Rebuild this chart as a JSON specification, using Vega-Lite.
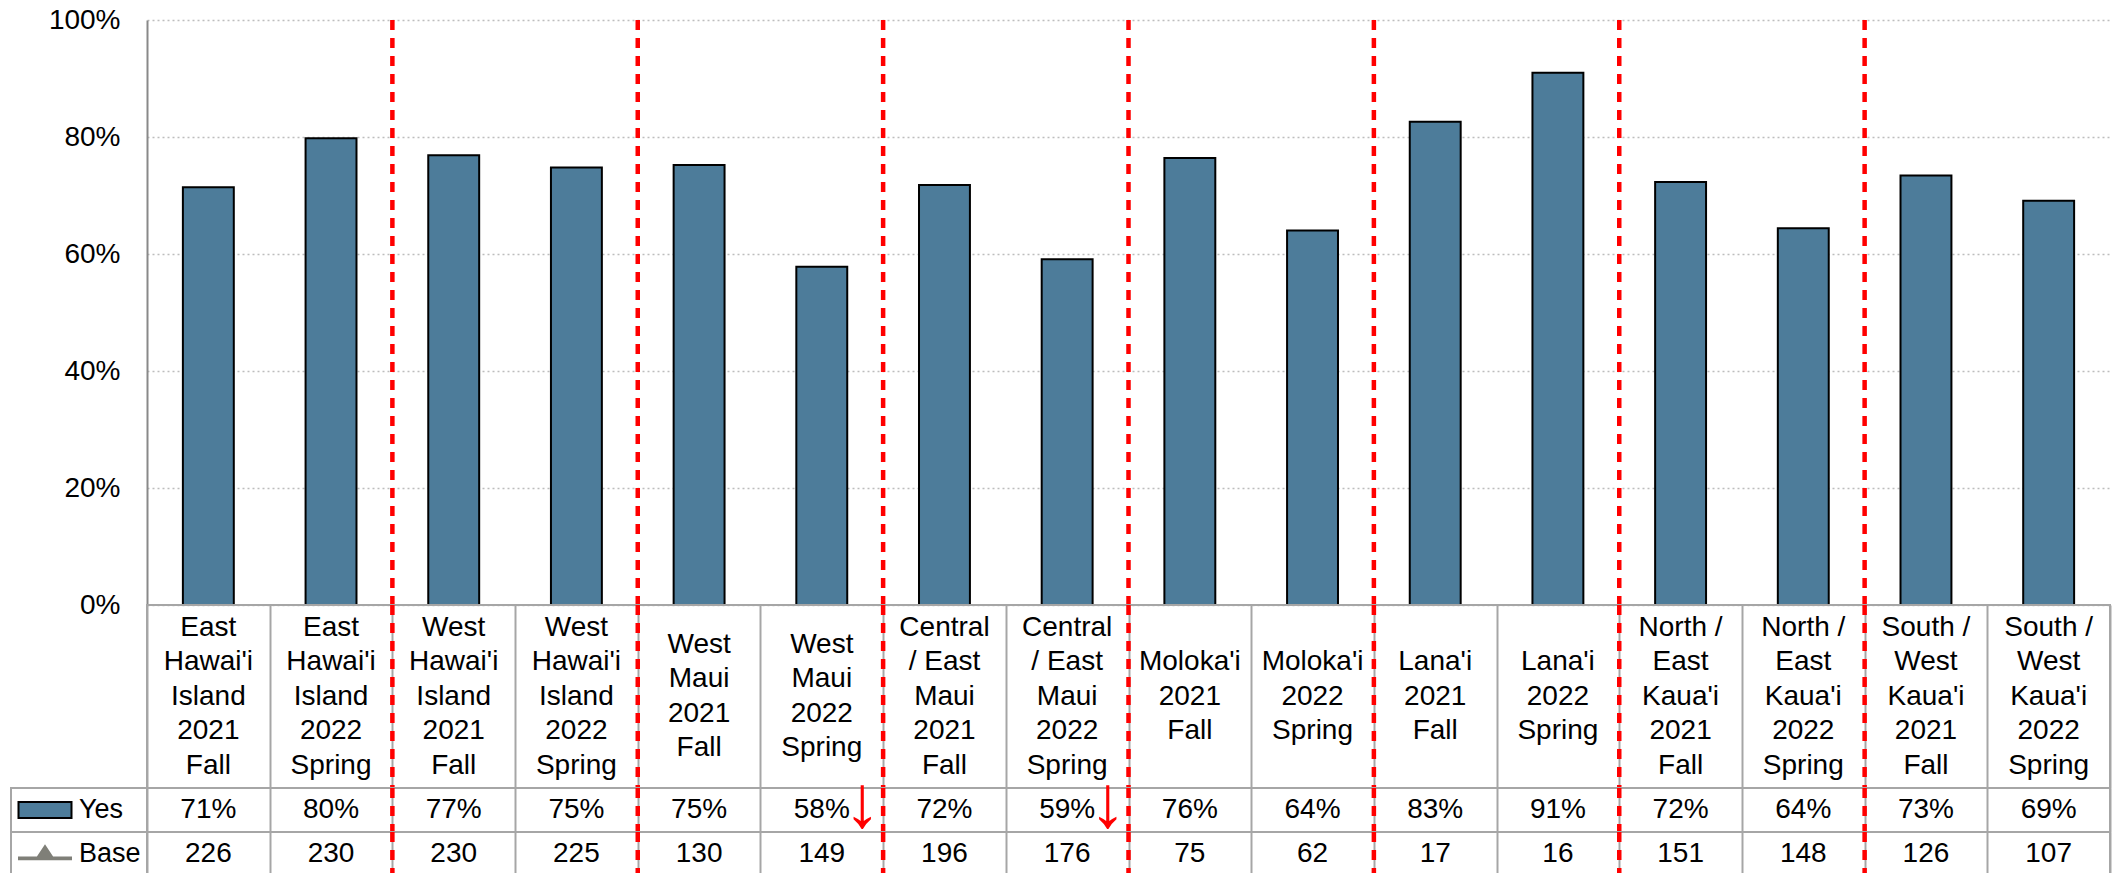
{
  "$schema": "https://vega.github.io/schema/vega-lite/v6.json",
  "autosize": {"type": "pad"},
  "padding": {"left": 10, "top": 6, "right": 1, "bottom": 0},
  "config": {
    "font": "Liberation Sans",
    "view": {"stroke": "#A6A6A6", "strokeWidth": 2}
  },
  "bounds": "flush",
  "spacing": 0,
  "columns": 2,
  "data": {
    "values": [
      {"region": "East Hawai'i Island", "wave": "2021 Fall", "label": "East\nHawai'i\nIsland\n2021\nFall", "yes": 0.714, "base": 226, "change": ""},
      {"region": "East Hawai'i Island", "wave": "2022 Spring", "label": "East\nHawai'i\nIsland\n2022\nSpring", "yes": 0.798, "base": 230, "change": ""},
      {"region": "West Hawai'i Island", "wave": "2021 Fall", "label": "West\nHawai'i\nIsland\n2021\nFall", "yes": 0.769, "base": 230, "change": ""},
      {"region": "West Hawai'i Island", "wave": "2022 Spring", "label": "West\nHawai'i\nIsland\n2022\nSpring", "yes": 0.748, "base": 225, "change": ""},
      {"region": "West Maui", "wave": "2021 Fall", "label": "West\nMaui\n2021\nFall", "yes": 0.752, "base": 130, "change": ""},
      {"region": "West Maui", "wave": "2022 Spring", "label": "West\nMaui\n2022\nSpring", "yes": 0.578, "base": 149, "change": "down"},
      {"region": "Central / East Maui", "wave": "2021 Fall", "label": "Central\n/ East\nMaui\n2021\nFall", "yes": 0.718, "base": 196, "change": ""},
      {"region": "Central / East Maui", "wave": "2022 Spring", "label": "Central\n/ East\nMaui\n2022\nSpring", "yes": 0.591, "base": 176, "change": "down"},
      {"region": "Moloka'i", "wave": "2021 Fall", "label": "Moloka'i\n2021\nFall", "yes": 0.764, "base": 75, "change": ""},
      {"region": "Moloka'i", "wave": "2022 Spring", "label": "Moloka'i\n2022\nSpring", "yes": 0.640, "base": 62, "change": ""},
      {"region": "Lana'i", "wave": "2021 Fall", "label": "Lana'i\n2021\nFall", "yes": 0.826, "base": 17, "change": ""},
      {"region": "Lana'i", "wave": "2022 Spring", "label": "Lana'i\n2022\nSpring", "yes": 0.910, "base": 16, "change": ""},
      {"region": "North / East Kaua'i", "wave": "2021 Fall", "label": "North /\nEast\nKaua'i\n2021\nFall", "yes": 0.723, "base": 151, "change": ""},
      {"region": "North / East Kaua'i", "wave": "2022 Spring", "label": "North /\nEast\nKaua'i\n2022\nSpring", "yes": 0.644, "base": 148, "change": ""},
      {"region": "South / West Kaua'i", "wave": "2021 Fall", "label": "South /\nWest\nKaua'i\n2021\nFall", "yes": 0.734, "base": 126, "change": ""},
      {"region": "South / West Kaua'i", "wave": "2022 Spring", "label": "South /\nWest\nKaua'i\n2022\nSpring", "yes": 0.691, "base": 107, "change": ""}
    ]
  },
  "concat": [
    {
      "width": 136, "height": 585, "view": {"stroke": null},
      "data": {"values": [{"series": ""}]},
      "mark": {"type": "text"},
      "encoding": {"text": {"value": ""}}
    },
    {
      "width": 1963, "height": 585, "view": {"stroke": null},
      "layer": [
        {
          "mark": {"type": "bar", "fill": "#4D7C9A", "stroke": "#000000", "strokeWidth": 2, "width": {"band": 0.415}},
          "encoding": {
            "x": {"field": "label", "type": "nominal", "sort": null, "axis": null, "scale": {"type": "band", "paddingInner": 0, "paddingOuter": 0}},
            "y": {"field": "yes", "type": "quantitative", "scale": {"domain": [0, 1], "nice": false},
              "axis": {"values": [0, 0.2, 0.4, 0.6, 0.8, 1], "format": ".0%", "title": null, "ticks": false, "labelFontSize": 28, "labelColor": "#000000", "labelPadding": 27, "domainColor": "#898989", "domainWidth": 2, "grid": true, "gridColor": "#BDBDBD", "gridDash": [2, 3], "gridWidth": 1.5}}
          }
        },
        {
          "mark": {"type": "rule", "color": "#FF0000", "strokeWidth": 4.5, "strokeDash": [10, 8]},
          "encoding": {
            "x": {"field": "label", "type": "nominal", "sort": null, "bandPosition": 0, "scale": {"type": "band", "paddingInner": 0, "paddingOuter": 0}},
            "strokeOpacity": {"condition": {"test": "datum.wave === '2021 Fall' && datum.region !== \"East Hawai'i Island\"", "value": 1}, "value": 0}
          }
        }
      ]
    },
    {
      "width": 136, "height": 183, "view": {"stroke": null},
      "data": {"values": [{"series": ""}]},
      "mark": {"type": "text"},
      "encoding": {"text": {"value": ""}}
    },
    {
      "width": 1963, "height": 183,
      "layer": [
        {
          "mark": {"type": "text", "fontSize": 28, "lineHeight": 34.5, "lineBreak": "\n", "baseline": "middle", "align": "center", "color": "#000000", "dy": -69},
          "encoding": {
            "x": {"field": "label", "type": "nominal", "sort": null, "scale": {"type": "band", "paddingInner": 0, "paddingOuter": 0},
              "axis": {"labels": false, "ticks": false, "domain": false, "title": null, "grid": true, "tickBand": "extent", "gridColor": "#A6A6A6", "gridWidth": 2}},
            "text": {"condition": {"test": "length(split(datum.label, '\\n')) === 5", "field": "label"}, "value": ""}
          }
        },
        {
          "mark": {"type": "text", "fontSize": 28, "lineHeight": 34.5, "lineBreak": "\n", "baseline": "middle", "align": "center", "color": "#000000", "dy": -51.75},
          "encoding": {
            "x": {"field": "label", "type": "nominal", "sort": null},
            "text": {"condition": {"test": "length(split(datum.label, '\\n')) === 4", "field": "label"}, "value": ""}
          }
        },
        {
          "mark": {"type": "text", "fontSize": 28, "lineHeight": 34.5, "lineBreak": "\n", "baseline": "middle", "align": "center", "color": "#000000", "dy": -34.5},
          "encoding": {
            "x": {"field": "label", "type": "nominal", "sort": null},
            "text": {"condition": {"test": "length(split(datum.label, '\\n')) === 3", "field": "label"}, "value": ""}
          }
        },
        {
          "mark": {"type": "rule", "color": "#FF0000", "strokeWidth": 4.5, "strokeDash": [10, 8]},
          "encoding": {
            "x": {"field": "label", "type": "nominal", "sort": null, "bandPosition": 0},
            "strokeOpacity": {"condition": {"test": "datum.wave === '2021 Fall' && datum.region !== \"East Hawai'i Island\"", "value": 1}, "value": 0}
          }
        }
      ]
    },
    {
      "width": 136, "height": 44,
      "data": {"values": [{"series": "Yes"}]},
      "layer": [
        {
          "mark": {"type": "point", "shape": "M-1,-0.302H1V0.302H-1Z", "size": 2809, "filled": true, "fill": "#4D7C9A", "stroke": "#000000", "strokeWidth": 2, "opacity": 1},
          "encoding": {
            "x": {"datum": "key", "type": "nominal", "scale": {"type": "band", "domain": ["key", "label"], "paddingInner": 0, "paddingOuter": 0}, "axis": null}
          }
        },
        {
          "mark": {"type": "text", "fontSize": 27, "align": "left", "baseline": "middle", "color": "#000000"},
          "encoding": {
            "x": {"datum": "label", "type": "nominal", "bandPosition": 0},
            "text": {"field": "series"}
          }
        }
      ]
    },
    {
      "width": 1963, "height": 44,
      "layer": [
        {
          "mark": {"type": "text", "fontSize": 28, "baseline": "middle", "align": "center", "color": "#000000"},
          "encoding": {
            "x": {"field": "label", "type": "nominal", "sort": null, "scale": {"type": "band", "paddingInner": 0, "paddingOuter": 0},
              "axis": {"labels": false, "ticks": false, "domain": false, "title": null, "grid": true, "tickBand": "extent", "gridColor": "#A6A6A6", "gridWidth": 2}},
            "text": {"field": "yes", "type": "quantitative", "format": ".0%"}
          }
        },
        {
          "mark": {"type": "text", "fontSize": 74, "baseline": "middle", "align": "center", "color": "#FF0000", "dy": -5},
          "encoding": {
            "x": {"field": "label", "type": "nominal", "sort": null, "bandPosition": 0.83},
            "text": {"condition": {"test": "datum.change === 'down'", "value": "↓"}, "value": ""}
          }
        },
        {
          "mark": {"type": "rule", "color": "#FF0000", "strokeWidth": 4.5, "strokeDash": [10, 8]},
          "encoding": {
            "x": {"field": "label", "type": "nominal", "sort": null, "bandPosition": 0},
            "strokeOpacity": {"condition": {"test": "datum.wave === '2021 Fall' && datum.region !== \"East Hawai'i Island\"", "value": 1}, "value": 0}
          }
        }
      ]
    },
    {
      "width": 136, "height": 44,
      "data": {"values": [{"series": "Base"}]},
      "layer": [
        {
          "mark": {"type": "point", "shape": "M-1,0.09H1V0.23H-1Z M0,-0.36L0.33,0.14H-0.33Z", "size": 2916, "filled": true, "fill": "#7F7F78", "strokeWidth": 0, "opacity": 1},
          "encoding": {
            "x": {"datum": "key", "type": "nominal", "scale": {"type": "band", "domain": ["key", "label"], "paddingInner": 0, "paddingOuter": 0}, "axis": null}
          }
        },
        {
          "mark": {"type": "text", "fontSize": 27, "align": "left", "baseline": "middle", "color": "#000000"},
          "encoding": {
            "x": {"datum": "label", "type": "nominal", "bandPosition": 0},
            "text": {"field": "series"}
          }
        }
      ]
    },
    {
      "width": 1963, "height": 44,
      "layer": [
        {
          "mark": {"type": "text", "fontSize": 28, "baseline": "middle", "align": "center", "color": "#000000"},
          "encoding": {
            "x": {"field": "label", "type": "nominal", "sort": null, "scale": {"type": "band", "paddingInner": 0, "paddingOuter": 0},
              "axis": {"labels": false, "ticks": false, "domain": false, "title": null, "grid": true, "tickBand": "extent", "gridColor": "#A6A6A6", "gridWidth": 2}},
            "text": {"field": "base", "type": "quantitative"}
          }
        },
        {
          "mark": {"type": "rule", "color": "#FF0000", "strokeWidth": 4.5, "strokeDash": [10, 8]},
          "encoding": {
            "x": {"field": "label", "type": "nominal", "sort": null, "bandPosition": 0},
            "strokeOpacity": {"condition": {"test": "datum.wave === '2021 Fall' && datum.region !== \"East Hawai'i Island\"", "value": 1}, "value": 0}
          }
        }
      ]
    }
  ]
}
